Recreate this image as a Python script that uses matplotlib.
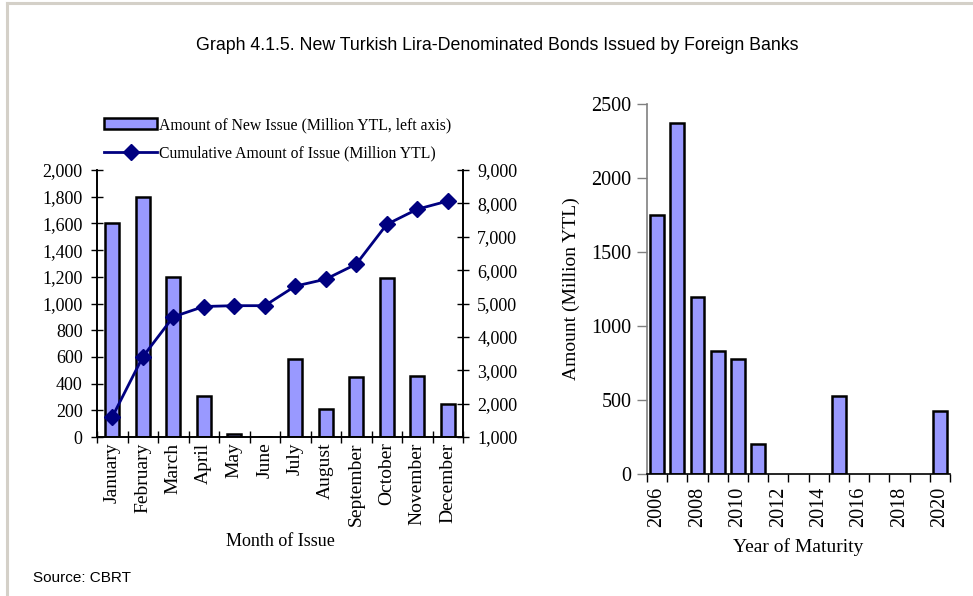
import matplotlib
matplotlib.use("Agg")
import matplotlib.pyplot as plt
from matplotlib.lines import Line2D
from matplotlib.ticker import FuncFormatter, FixedLocator
import numpy as np

# ---- data -------------------------------------------------------------
months = ["January", "February", "March", "April", "May", "June", "July",
          "August", "September", "October", "November", "December"]
new_issue = [1600, 1800, 1200, 310, 25, 0, 585, 210, 450, 1190, 455, 245]
cumulative = [1600, 3400, 4600, 4910, 4935, 4935, 5520, 5730, 6180, 7370,
              7825, 8070]

years = [2006, 2007, 2008, 2009, 2010, 2011, 2012, 2013, 2014, 2015, 2016,
         2017, 2018, 2019, 2020]
maturity = [1750, 2370, 1195, 830, 775, 200, 0, 0, 0, 530, 0, 0, 0, 0, 425]

# ---- style ------------------------------------------------------------
W, H = 973, 596
BAR = "#9999ff"
LINE = "#000080"
SERIF = ["Liberation Serif", "DejaVu Serif"]
NARROW = ["Liberation Sans Narrow", "Liberation Sans", "DejaVu Sans"]
plt.rcParams["font.family"] = SERIF
plt.rcParams["font.size"] = 13

fig = plt.figure(figsize=(W / 100, H / 100), dpi=100)
fig.patch.set_facecolor("white")


def rect(x0, y0, x1, y1):
    return [x0 / W, 1 - y1 / H, (x1 - x0) / W, (y1 - y0) / H]


comma = FuncFormatter(lambda v, p: f"{int(v):,}")

# ---- left panel: monthly issue + cumulative -----------------------------
ax = fig.add_axes(rect(97, 170, 463, 437))
x = np.arange(len(months))
bars = ax.bar(x, new_issue, width=0.45, color=BAR, edgecolor="black",
              linewidth=1.8, zorder=2)
ax.set_xlim(-0.5, len(months) - 0.5)
ax.set_ylim(0, 2000)
ax.set_yticks(np.arange(0, 2001, 200))
ax.yaxis.set_major_formatter(comma)
ax.set_xticks(x)
ax.set_xticklabels(months, rotation=90, fontsize=14)
ax.xaxis.set_minor_locator(FixedLocator(np.arange(-0.5, len(months), 1)))
ax.tick_params(axis="x", which="major", length=0, pad=4)
ax.tick_params(axis="x", which="minor", direction="inout", length=9,
               width=1)
ax.tick_params(axis="y", direction="inout", length=8.6, width=1, pad=6,
               labelsize=13)
ax.spines["top"].set_visible(False)
for s in ("left", "right", "bottom"):
    ax.spines[s].set_linewidth(1.2)
ax.set_xlabel("Month of Issue", fontsize=13, labelpad=5)

ax2 = ax.twinx()
line, = ax2.plot(x, cumulative, color=LINE, lw=2, marker="D",
                 markersize=8, zorder=3)
ax2.set_ylim(1000, 9000)
ax2.set_yticks(np.arange(1000, 9001, 1000))
ax2.yaxis.set_major_formatter(comma)
ax2.tick_params(axis="y", direction="inout", length=8.6, width=1, pad=6,
                labelsize=13)
ax2.spines["top"].set_visible(False)
for s in ("left", "right", "bottom"):
    ax2.spines[s].set_linewidth(1.2)

fig.legend([bars, line],
           ["Amount of New Issue (Million YTL, left axis)",
            "Cumulative Amount of Issue (Million YTL)"],
           loc="upper left", bbox_to_anchor=(104 / W, 1 - 117 / H),
           frameon=False, borderpad=0, borderaxespad=0,
           handlelength=3.4, handletextpad=0.1, labelspacing=0.82,
           fontsize=11.3)

# ---- right panel: maturity profile ------------------------------------
bx = fig.add_axes(rect(647, 104, 950, 474))
xi = np.arange(len(years))
hx = [i for i, v in zip(xi, maturity) if v > 0]
hv = [v for v in maturity if v > 0]
bx.bar(hx, hv, width=0.68, color=BAR, edgecolor="black", linewidth=1.8,
       zorder=2)
bx.set_xlim(-0.5, len(years) - 0.5)
bx.set_ylim(0, 2500)
bx.set_yticks(np.arange(0, 2501, 500))
bx.set_xticks(xi[::2])
bx.set_xticklabels([str(y) for y in years[::2]], rotation=90)
bx.xaxis.set_minor_locator(FixedLocator(np.arange(-0.5, len(years), 1)))
bx.tick_params(axis="x", which="major", length=0, pad=9, labelsize=14.5)
bx.tick_params(axis="x", which="minor", direction="out", length=6,
               width=1)
bx.tick_params(axis="y", direction="out", length=7, width=1, pad=4,
               color="#808080", labelsize=14.5)
bx.spines["top"].set_visible(False)
bx.spines["right"].set_visible(False)
bx.spines["left"].set_color("#808080")
bx.spines["left"].set_linewidth(1.2)
bx.spines["bottom"].set_linewidth(1.2)
bx.set_ylabel("Amount (Million YTL)", fontsize=14, labelpad=8)
bx.set_xlabel("Year of Maturity", fontsize=14, labelpad=8)

# ---- titles, source and page frame ------------------------------------
fig.text(497 / W, 1 - 45 / H,
         "Graph 4.1.5. New Turkish Lira-Denominated Bonds Issued by Foreign Banks",
         ha="center", va="center", fontsize=12.8, family=NARROW)
fig.text(33 / W, 1 - 578 / H, "Source: CBRT", ha="left", va="center",
         fontsize=11, family=NARROW)

frame = "#d4d0c8"
fig.add_artist(Line2D([6.5 / W, 1], [1 - 2.5 / H, 1 - 2.5 / H],
                      color=frame, lw=2.2, transform=fig.transFigure))
fig.add_artist(Line2D([6.5 / W, 6.5 / W], [0, 1 - 2.5 / H],
                      color=frame, lw=2.2, transform=fig.transFigure))

fig.savefig("out.png", dpi=100)
